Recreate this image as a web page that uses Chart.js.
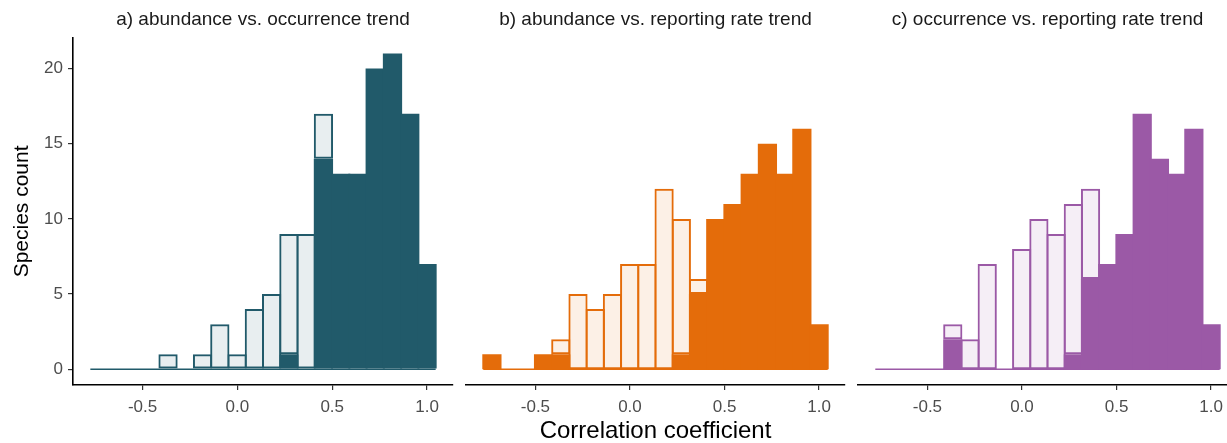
<!DOCTYPE html>
<html>
<head>
<meta charset="utf-8">
<script src="https://cdn.jsdelivr.net/npm/chart.js@4"></script>
<style>
  html, body { margin: 0; padding: 0; background: #fff; overflow: hidden; }
  #wrap { position: relative; width: 1227px; height: 443px; overflow: hidden; }
  #wrap canvas { position: absolute; top: 0; }
</style>
</head>
<body>
<div id="wrap">
  <canvas id="panelA" width="456" height="446" style="left:0px"></canvas>
  <canvas id="panelB" width="390" height="446" style="left:459px"></canvas>
  <canvas id="panelC" width="390" height="446" style="left:851px"></canvas>
</div>
<script>
// histogram bins (centres), 20 bins
var binCenters = [-0.7300, -0.6390, -0.5479, -0.4569, -0.3658, -0.2748, -0.1837, -0.0927, -0.0016, 0.0895,
                  0.1805, 0.2716, 0.3626, 0.4537, 0.5447, 0.6358, 0.7268, 0.8179, 0.9089, 1.0000];
var binWidth = 0.09105;
var xTicks = [-0.5, 0.0, 0.5, 1.0];
var yTicks = [0, 5, 10, 15, 20];

// a) abundance vs. occurrence trend
var sigA    = [0, 0, 0, 0, 0, 0, 0, 0, 0, 0, 0, 1, 0, 14, 13, 13, 20, 21, 17, 7];
var nonsigA = [0, 0, 0, 0, 1, 0, 1, 3, 1, 4, 5, 8, 9, 3, 0, 0, 0, 0, 0, 0];
// b) abundance vs. reporting rate trend
var sigB    = [1, 0, 0, 1, 1, 0, 0, 0, 0, 0, 0, 1, 5, 10, 11, 13, 15, 13, 16, 3];
var nonsigB = [0, 0, 0, 0, 1, 5, 4, 5, 7, 7, 12, 9, 1, 0, 0, 0, 0, 0, 0, 0];
// c) occurrence vs. reporting rate trend
var sigC    = [0, 0, 0, 0, 2, 0, 0, 0, 0, 0, 0, 1, 6, 7, 9, 17, 14, 13, 16, 3];
var nonsigC = [0, 0, 0, 0, 1, 2, 7, 0, 8, 10, 9, 10, 6, 0, 0, 0, 0, 0, 0, 0];

var FONT = '"Liberation Sans", Arial, sans-serif';
var X_MIN = -0.867, X_MAX = 1.137;
var Y_MIN = -1.05, Y_MAX = 22.05;

function pts(vals) {
  return vals.map(function(v, i) { return { x: binCenters[i], y: v }; });
}

function makePanel(id, title, sig, nonsig, rgb, opts) {
  var solid = 'rgb(' + rgb + ')';
  var light = 'rgba(' + rgb + ',0.1)';
  var half = binWidth / 2;
  var first = binCenters[0] - half, last = binCenters[binCenters.length - 1] + half;

  new Chart(document.getElementById(id), {
    type: 'bar',
    data: {
      datasets: [
        { label: 'sig', data: pts(sig), backgroundColor: solid, borderWidth: 0, stack: 's', order: 1 },
        { label: 'nonsig', data: pts(nonsig), backgroundColor: light, borderColor: solid, borderWidth: 2, borderSkipped: false, stack: 's', order: 1 },
        { type: 'line', label: 'base', data: [{ x: first, y: 0 }, { x: last, y: 0 }], borderColor: solid, borderWidth: 1.5, pointRadius: 0, stack: 'base', order: 5 }
      ]
    },
    options: {
      responsive: false,
      animation: false,
      // bars slightly wider than a bin so neighbouring outlines overlap into one line
      barPercentage: 1.116,
      categoryPercentage: 1,
      layout: { padding: opts.padding },
      plugins: {
        legend: { display: false },
        tooltip: { enabled: false },
        title: { display: true, text: title, fullSize: false, color: '#1a1a1a',
                 font: { family: FONT, size: 19, weight: 'normal' }, padding: { top: 8, bottom: 7 } }
      },
      scales: {
        x: {
          type: 'linear', stacked: true, min: X_MIN, max: X_MAX, offset: false,
          afterBuildTicks: function(s) { s.ticks = xTicks.map(function(v) { return { value: v }; }); },
          afterFit: function(s) { s.height = 61; },
          ticks: { color: '#4d4d4d', padding: 7, font: { family: FONT, size: 17 },
                   callback: function(v) { return v.toFixed(1); } },
          grid: { display: true, offset: false, drawOnChartArea: false, drawTicks: true, tickLength: 5, color: '#333', lineWidth: 1.2 },
          border: { display: true, color: '#000', width: 1.6 },
          title: { display: !!opts.xTitle, text: opts.xTitle || '', color: '#000',
                   font: { family: FONT, size: 24 }, padding: { top: 0, bottom: 0 } }
        },
        y: {
          display: !!opts.yAxis, stacked: true, min: Y_MIN, max: Y_MAX,
          afterBuildTicks: function(s) { s.ticks = yTicks.map(function(v) { return { value: v }; }); },
          afterFit: function(s) { s.width = opts.yAxis ? 73 : 0; },
          ticks: { color: '#4d4d4d', padding: 5, font: { family: FONT, size: 17 } },
          grid: { display: true, drawOnChartArea: false, drawTicks: true, tickLength: 5, color: '#333', lineWidth: 1.2 },
          border: { display: true, color: '#000', width: 1.6 },
          title: { display: !!opts.yAxis, text: 'Species count', color: '#000',
                   font: { family: FONT, size: 21 }, padding: { top: 10, bottom: 0 } }
        }
      }
    }
  });
}

makePanel('panelA', 'a) abundance vs. occurrence trend', sigA, nonsigA, '33,90,106',
  { yAxis: true, padding: { left: 0, right: 3, top: 0, bottom: 0 } });
makePanel('panelB', 'b) abundance vs. reporting rate trend', sigB, nonsigB, '228,108,10',
  { xTitle: 'Correlation coefficient', padding: { left: 7, right: 4, top: 0, bottom: 0 } });
makePanel('panelC', 'c) occurrence vs. reporting rate trend', sigC, nonsigC, '155,89,166',
  { padding: { left: 7, right: 4, top: 0, bottom: 0 } });
</script>
</body>
</html>
